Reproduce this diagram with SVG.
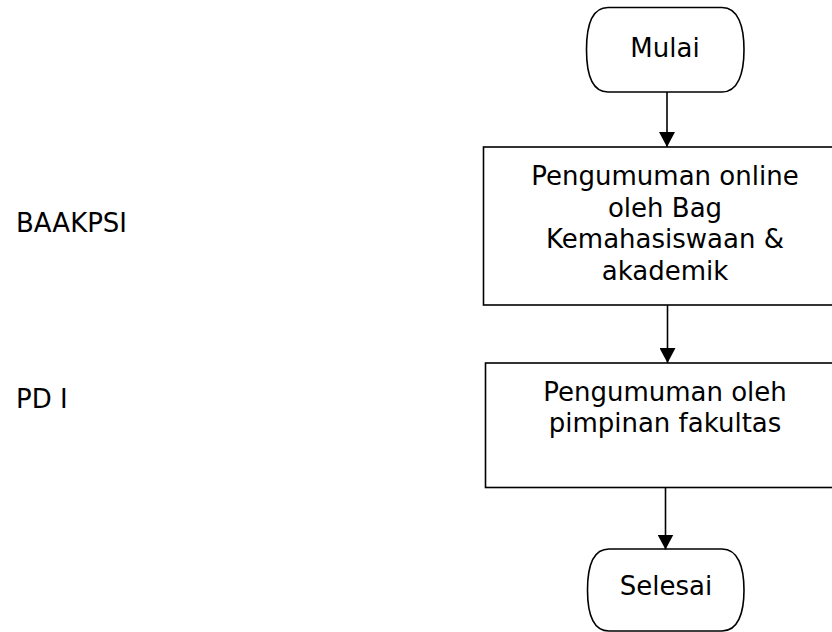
<svg xmlns="http://www.w3.org/2000/svg" width="832" height="632" viewBox="0 0 832 632">
<style>
.shape{fill:#fff;stroke:#000;stroke-width:1.6}
.t{font-family:"DejaVu Sans",Verdana,sans-serif;font-size:26px;fill:#000}
.c{text-anchor:middle}
.conn{stroke:#000;stroke-width:1.6;fill:none}
</style>
<defs>
<marker id="arr" markerUnits="userSpaceOnUse" markerWidth="15" markerHeight="16" viewBox="0 0 15 16" refX="15" refY="8" orient="auto">
<path d="M0,0 L15,8 L0,16 Z" fill="#000"/>
</marker>
</defs>
<rect width="832" height="632" fill="#fff"/>
<g id="lane-baakpsi"><text class="t" x="16" y="232">BAAKPSI</text></g>
<g id="lane-pd1"><text class="t" x="16" y="408">PD I</text></g>
<g id="mulai">
<path class="shape" d="M608,7.5 H722 C738,7.5 744,26 744,49.75 C744,73.5 738,92 722,92 H608 C592,92 586.5,73.5 586.5,49.75 C586.5,26 592,7.5 608,7.5 Z"/>
<text class="t c" x="665" y="57">Mulai</text>
</g>
<g id="pengumuman-online">
<rect class="shape" x="483.5" y="147" width="360" height="158"/>
<text class="t c" x="665" y="185">Pengumuman online</text>
<text class="t c" x="665" y="217">oleh Bag</text>
<text class="t c" x="665" y="248">Kemahasiswaan &amp;</text>
<text class="t c" x="665" y="280">akademik</text>
</g>
<g id="pengumuman-fakultas">
<rect class="shape" x="485.5" y="363" width="360" height="124.5"/>
<text class="t c" x="665" y="401">Pengumuman oleh</text>
<text class="t c" x="665" y="432">pimpinan fakultas</text>
</g>
<g id="selesai">
<path class="shape" d="M609,549 H722 C738,549 744,567 744,590 C744,613 738,631 722,631 H609 C593,631 587.5,613 587.5,590 C587.5,567 593,549 609,549 Z"/>
<text class="t c" x="666" y="595">Selesai</text>
</g>
<g id="connectors">
<path class="conn" d="M667,92 V147" marker-end="url(#arr)"/>
<path class="conn" d="M667.5,305 V363" marker-end="url(#arr)"/>
<path class="conn" d="M665.5,487.5 V549.5" marker-end="url(#arr)"/>
</g>
</svg>
